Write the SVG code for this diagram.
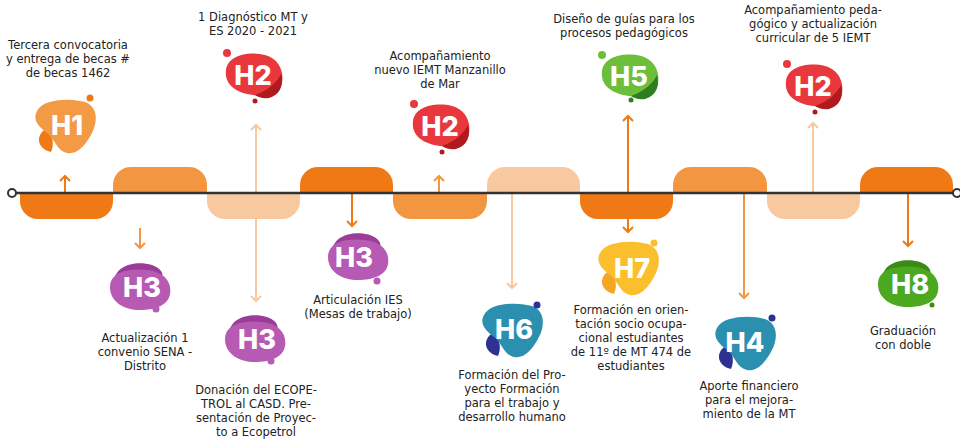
<svg xmlns="http://www.w3.org/2000/svg" width="960" height="439" viewBox="0 0 960 439">
<style>
.t{font-family:"DejaVu Sans","Liberation Sans",sans-serif;font-size:11.5px;fill:#222;text-anchor:middle}
.h{font-family:Inter,"Liberation Sans",sans-serif;font-weight:800;font-size:27px;fill:#fff;text-anchor:middle;dominant-baseline:central}
.dk{stroke:#EF7A15}.md{stroke:#F39642}.lt{stroke:#F8C9A0}
.c{fill:none;stroke-width:2}
</style>
<defs>
<path id="bA" d="M -28,-14 C -22,-27 8,-27 20,-23 C 33,-18 33,-4 27,8 C 21,20 12,30 2,28 C -8,26 -10,14 -18,8 C -26,2 -33,-5 -28,-14 Z"/>
<path id="aA" d="M -19,4 C -30,10 -28,24 -14,27 C -11,20 -11,11 -19,4 Z"/>
<path id="bB" d="M -27,-5 C -25,-20 -4,-24 12,-20 C 27,-16 31,-2 29,8 C 27,18 14,22 0,20 C -16,18 -29,10 -27,-5 Z"/>
<path id="aB" d="M 2,20 C 16,15 24,7 28,-1 C 31,10 27,20 16,23 C 10,24 5,22 2,20 Z"/>
<path id="bC" d="M -30,0 C -30,-16 -10,-19 8,-17 C 24,-15 32,-5 30,7 C 28,19 14,23 0,23 C -16,23 -30,15 -30,0 Z"/>
<path id="aC" d="M -26,-4 C -26,-22 -4,-27 12,-22 C 20,-19 24,-14 22,-10 C 8,-16 -12,-12 -26,-4 Z"/>
<marker id="arD" viewBox="-6 -6 12 12" markerWidth="12" markerHeight="12" markerUnits="userSpaceOnUse" orient="auto"><path d="M -5,-5 L 0,0 L -5,5" fill="none" stroke="#EF7A15" stroke-width="2"/></marker>
<marker id="arM" viewBox="-6 -6 12 12" markerWidth="12" markerHeight="12" markerUnits="userSpaceOnUse" orient="auto"><path d="M -5,-5 L 0,0 L -5,5" fill="none" stroke="#F39642" stroke-width="2"/></marker>
<marker id="arL" viewBox="-6 -6 12 12" markerWidth="12" markerHeight="12" markerUnits="userSpaceOnUse" orient="auto"><path d="M -5,-5 L 0,0 L -5,5" fill="none" stroke="#F8C9A0" stroke-width="2"/></marker>
</defs>
<rect width="960" height="439" fill="#fff"/>
<g id="timeline">
<path d="M 20,193 H 113 V 201 A 18 18 0 0 1 95,219 H 38 A 18 18 0 0 1 20,201 Z" fill="#EF7A15"/>
<path d="M 113,193 H 207 V 185 A 18 18 0 0 0 189,167 H 131 A 18 18 0 0 0 113,185 Z" fill="#F39642"/>
<path d="M 207,193 H 300 V 201 A 18 18 0 0 1 282,219 H 225 A 18 18 0 0 1 207,201 Z" fill="#F8C9A0"/>
<path d="M 300,193 H 393 V 185 A 18 18 0 0 0 375,167 H 318 A 18 18 0 0 0 300,185 Z" fill="#EF7A15"/>
<path d="M 393,193 H 487 V 201 A 18 18 0 0 1 469,219 H 411 A 18 18 0 0 1 393,201 Z" fill="#F39642"/>
<path d="M 487,193 H 580 V 185 A 18 18 0 0 0 562,167 H 505 A 18 18 0 0 0 487,185 Z" fill="#F8C9A0"/>
<path d="M 580,193 H 673 V 201 A 18 18 0 0 1 655,219 H 598 A 18 18 0 0 1 580,201 Z" fill="#EF7A15"/>
<path d="M 673,193 H 767 V 185 A 18 18 0 0 0 749,167 H 691 A 18 18 0 0 0 673,185 Z" fill="#F39642"/>
<path d="M 767,193 H 860 V 201 A 18 18 0 0 1 842,219 H 785 A 18 18 0 0 1 767,201 Z" fill="#F8C9A0"/>
<path d="M 860,193 H 953 V 185 A 18 18 0 0 0 935,167 H 878 A 18 18 0 0 0 860,185 Z" fill="#EF7A15"/>
</g>
<g id="connectors">
<line class="c dk" x1="65" y1="193" x2="65" y2="176" marker-end="url(#arD)"/>
<line class="c md" x1="140" y1="228" x2="140" y2="248" marker-end="url(#arM)"/>
<line class="c lt" x1="256" y1="193" x2="256" y2="125" marker-end="url(#arL)"/>
<line class="c lt" x1="256" y1="193" x2="256" y2="301" marker-end="url(#arL)"/>
<line class="c dk" x1="352" y1="193" x2="352" y2="226" marker-end="url(#arD)"/>
<line class="c md" x1="439" y1="193" x2="439" y2="176" marker-end="url(#arM)"/>
<line class="c lt" x1="512" y1="193" x2="512" y2="288" marker-end="url(#arL)"/>
<line class="c dk" x1="628" y1="193" x2="628" y2="116" marker-end="url(#arD)"/>
<line class="c dk" x1="628" y1="193" x2="628" y2="232" marker-end="url(#arD)"/>
<line class="c md" x1="744" y1="193" x2="744" y2="298" marker-end="url(#arM)"/>
<line class="c lt" x1="813" y1="193" x2="813" y2="123" marker-end="url(#arL)"/>
<line class="c dk" x1="908" y1="193" x2="908" y2="246" marker-end="url(#arD)"/>
</g>
<g id="axis">
<line x1="16" y1="193" x2="953" y2="193" stroke="#333" stroke-width="2.5"/>
<circle cx="12" cy="193" r="4" fill="#fff" stroke="#333" stroke-width="2"/>
<circle cx="957" cy="193" r="4" fill="#fff" stroke="#333" stroke-width="2"/>
</g>
<g id="n-h1" transform="translate(65,125)">
<use href="#aA" fill="#EF7A15"/><use href="#bA" fill="#F39A45"/><circle cx="25" cy="-27" r="3.5" fill="#EF7A15"/>
<text class="h" x="2" y="0">H1</text>
</g>
<g id="n-h2a" transform="translate(253,75)">
<use href="#bB" fill="#E8383D"/><use href="#aB" fill="#B01A1E"/><circle cx="-26" cy="-22" r="4" fill="#E8383D"/><circle cx="2" cy="26" r="2.5" fill="#B01A1E"/>
<text class="h" x="0" y="0">H2</text>
</g>
<g id="n-h3a" transform="translate(140,287)">
<use href="#aC" fill="#9A3C98"/><use href="#bC" fill="#B65AB3"/><circle cx="16" cy="22" r="3.5" fill="#B65AB3"/>
<text class="h" x="2" y="0">H3</text>
</g>
<g id="n-h3b" transform="translate(255,339)">
<use href="#aC" fill="#9A3C98"/><use href="#bC" fill="#B65AB3"/><circle cx="16" cy="22" r="3.5" fill="#B65AB3"/>
<text class="h" x="2" y="0">H3</text>
</g>
<g id="n-h3c" transform="translate(358,257)">
<use href="#aC" fill="#9A3C98"/><use href="#bC" fill="#B65AB3"/><circle cx="19" cy="24" r="3.5" fill="#B65AB3"/>
<text class="h" x="-4" y="0">H3</text>
</g>
<g id="n-h2b" transform="translate(440,126)">
<use href="#bB" fill="#E8383D"/><use href="#aB" fill="#B01A1E"/><circle cx="-26" cy="-22" r="4" fill="#E8383D"/><circle cx="2" cy="26" r="2.5" fill="#B01A1E"/>
<text class="h" x="0" y="0">H2</text>
</g>
<g id="n-h5" transform="translate(629,76)">
<use href="#bB" fill="#6DBE3B"/><use href="#aB" fill="#2E7D1E"/><circle cx="-27" cy="-21" r="4" fill="#6DBE3B"/><circle cx="2" cy="24" r="2.5" fill="#2E7D1E"/>
<text class="h" x="0" y="0">H5</text>
</g>
<g id="n-h7" transform="translate(628,267)">
<use href="#aA" fill="#F5A623"/><use href="#bA" fill="#FBBF2E"/><circle cx="26" cy="-24" r="3.5" fill="#FBBF2E"/>
<text class="h" x="4" y="1">H7</text>
</g>
<g id="n-h6" transform="translate(512,329)">
<use href="#aA" fill="#2E3192"/><use href="#bA" fill="#2B8FB0"/><circle cx="25" cy="-24" r="3.5" fill="#2E3192"/>
<text class="h" x="2" y="0">H6</text>
</g>
<g id="n-h4" transform="translate(745,342)">
<use href="#aA" fill="#2E3192"/><use href="#bA" fill="#2B8FB0"/><circle cx="27" cy="-24" r="3.5" fill="#2E3192"/>
<text class="h" x="0" y="0">H4</text>
</g>
<g id="n-h2c" transform="translate(813,86)">
<use href="#bB" fill="#E8383D"/><use href="#aB" fill="#B01A1E"/><circle cx="-26" cy="-22" r="4" fill="#E8383D"/><circle cx="2" cy="26" r="2.5" fill="#B01A1E"/>
<text class="h" x="0" y="0">H2</text>
</g>
<g id="n-h8" transform="translate(908,284)">
<use href="#aC" fill="#3A8A16"/><use href="#bC" fill="#4CA81F"/><circle cx="24" cy="21" r="2.5" fill="#3A8A16"/>
<text class="h" x="2" y="0">H8</text>
</g>
<g id="labels">
<text class="t" x="68" y="49">Tercera convocatoria</text>
<text class="t" x="68" y="63">y entrega de becas #</text>
<text class="t" x="68" y="77">de becas 1462</text>
<text class="t" x="253" y="21">1 Diagnóstico MT y</text>
<text class="t" x="253" y="35">ES 2020 - 2021</text>
<text class="t" x="440" y="60">Acompañamiento</text>
<text class="t" x="440" y="74">nuevo IEMT Manzanillo</text>
<text class="t" x="440" y="88">de Mar</text>
<text class="t" x="624" y="23">Diseño de guías para los</text>
<text class="t" x="624" y="37">procesos pedagógicos</text>
<text class="t" x="813" y="14">Acompañamiento peda-</text>
<text class="t" x="813" y="28">gógico y actualización</text>
<text class="t" x="813" y="42">curricular de 5 IEMT</text>
<text class="t" x="145" y="342">Actualización 1</text>
<text class="t" x="145" y="356">convenio SENA -</text>
<text class="t" x="145" y="370">Distrito</text>
<text class="t" x="256" y="394">Donación del ECOPE-</text>
<text class="t" x="256" y="408">TROL al CASD. Pre-</text>
<text class="t" x="256" y="422">sentación de Proyec-</text>
<text class="t" x="256" y="436">to a Ecopetrol</text>
<text class="t" x="358" y="304">Articulación IES</text>
<text class="t" x="358" y="318">(Mesas de trabajo)</text>
<text class="t" x="512" y="379">Formación del Pro-</text>
<text class="t" x="512" y="393">yecto Formación</text>
<text class="t" x="512" y="407">para el trabajo y</text>
<text class="t" x="512" y="421">desarrollo humano</text>
<text class="t" x="631" y="314">Formación en orien-</text>
<text class="t" x="631" y="328">tación socio ocupa-</text>
<text class="t" x="631" y="342">cional estudiantes</text>
<text class="t" x="631" y="356">de 11º de MT 474 de</text>
<text class="t" x="631" y="370">estudiantes</text>
<text class="t" x="749" y="390">Aporte financiero</text>
<text class="t" x="749" y="404">para el mejora-</text>
<text class="t" x="749" y="418">miento de la MT</text>
<text class="t" x="903" y="335">Graduación</text>
<text class="t" x="903" y="349">con doble</text>
</g>
</svg>
